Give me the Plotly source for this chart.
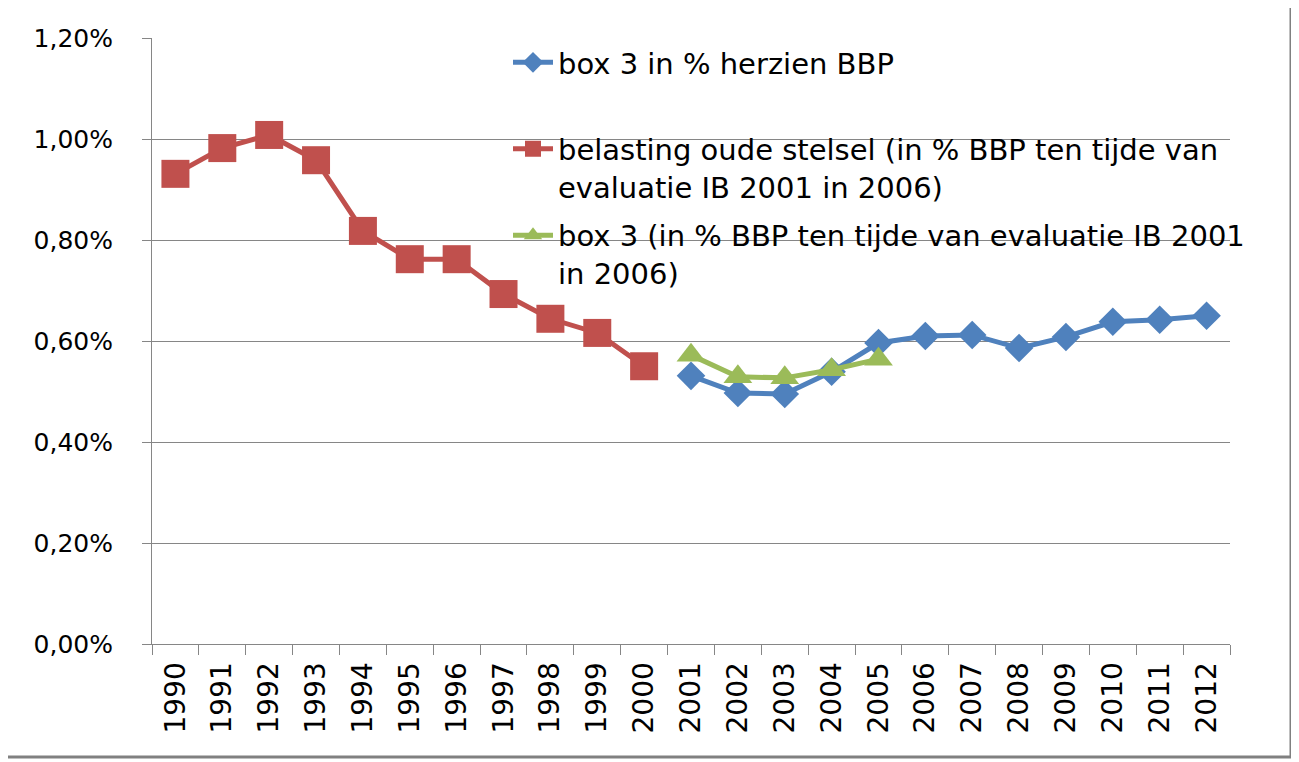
import plotly.graph_objects as go

years = [str(y) for y in range(1990, 2013)]

# box 3 in % herzien BBP (2001-2012)
blue_years = [str(y) for y in range(2001, 2013)]
blue_vals = [0.531, 0.497, 0.495, 0.539, 0.596, 0.610, 0.612, 0.586, 0.608, 0.638, 0.642, 0.650]

# belasting oude stelsel (1990-2000)
red_years = [str(y) for y in range(1990, 2001)]
red_vals = [0.931, 0.982, 1.008, 0.958, 0.818, 0.762, 0.762, 0.693, 0.644, 0.616, 0.550]

# box 3 (in % BBP ten tijde van evaluatie IB 2001 in 2006)
green_years = [str(y) for y in range(2001, 2006)]
green_vals = [0.572, 0.529, 0.527, 0.543, 0.564]

y_ticks = [0.0, 0.2, 0.4, 0.6, 0.8, 1.0, 1.2]
y_ticktext = ["0,00%", "0,20%", "0,40%", "0,60%", "0,80%", "1,00%", "1,20%"]

BLUE = "#4F81BD"
RED = "#C0504D"
GREEN = "#9BBB59"
GRID = "#868686"

fig = go.Figure()
fig.add_trace(go.Scatter(
    x=blue_years, y=blue_vals, mode="lines+markers",
    name="box 3 in % herzien BBP<br> ", legendgroup="a",
    line=dict(color=BLUE, width=5),
    marker=dict(symbol="diamond", size=22, color=BLUE),
))
fig.add_trace(go.Scatter(
    x=red_years, y=red_vals, mode="lines+markers",
    name="belasting oude stelsel (in % BBP ten tijde van<br>evaluatie IB 2001 in 2006)", legendgroup="b",
    line=dict(color=RED, width=5),
    marker=dict(symbol="square", size=28, color=RED),
))
fig.add_trace(go.Scatter(
    x=green_years, y=green_vals, mode="lines+markers",
    name="box 3 (in % BBP ten tijde van evaluatie IB 2001<br>in 2006)", legendgroup="c",
    line=dict(color=GREEN, width=5),
    marker=dict(symbol="triangle-up", size=25, color=GREEN),
))

W, H = 1291, 754
ML, MR, MT, MB = 144, 69, 30, 118
plot_w = W - ML - MR
plot_h = H - MT - MB
OFF = 8  # page body offset


def px_x(x):
    return (x - OFF - ML) / plot_w


def px_y(y):
    return (H - MB - (y - OFF)) / plot_h


fig.update_layout(
    width=W, height=H,
    margin=dict(l=ML, r=MR, t=MT, b=MB, pad=0),
    paper_bgcolor="white", plot_bgcolor="white",
    separators=",.",
    showlegend=True,
    legend=dict(
        x=px_x(508), y=px_y(37), xanchor="left", yanchor="top",
        bgcolor="rgba(0,0,0,0)", borderwidth=0,
        font=dict(family="DejaVu Sans", size=29, color="black"),
        valign="top", tracegroupgap=8, itemwidth=40,
    ),
    xaxis=dict(
        type="category", categoryorder="array", categoryarray=years,
        range=[-0.5, len(years) - 0.5],
        showline=True, linecolor=GRID, linewidth=1,
        ticks="outside", tickson="boundaries", ticklen=10, tickcolor=GRID,
        tickangle=-90, showgrid=False, ticklabelstandoff=6,
        tickfont=dict(family="DejaVu Sans", size=28, color="black"),
    ),
    yaxis=dict(
        range=[0, 1.2], tickvals=y_ticks, ticktext=y_ticktext,
        showline=True, linecolor=GRID, linewidth=1,
        ticks="outside", ticklen=9, tickcolor=GRID,
        showgrid=True, gridcolor=GRID, gridwidth=1, zeroline=False,
        ticklabelstandoff=24,
        tickfont=dict(family="DejaVu Sans", size=25, color="black"),
    ),
    shapes=[dict(
        type="rect", xref="paper", yref="paper",
        x0=px_x(-10), x1=px_x(1291),
        y0=px_y(757), y1=px_y(-10),
        line=dict(color="#808080", width=3), fillcolor="rgba(0,0,0,0)", layer="below",
    )],
)

fig.write_html("out.html")
